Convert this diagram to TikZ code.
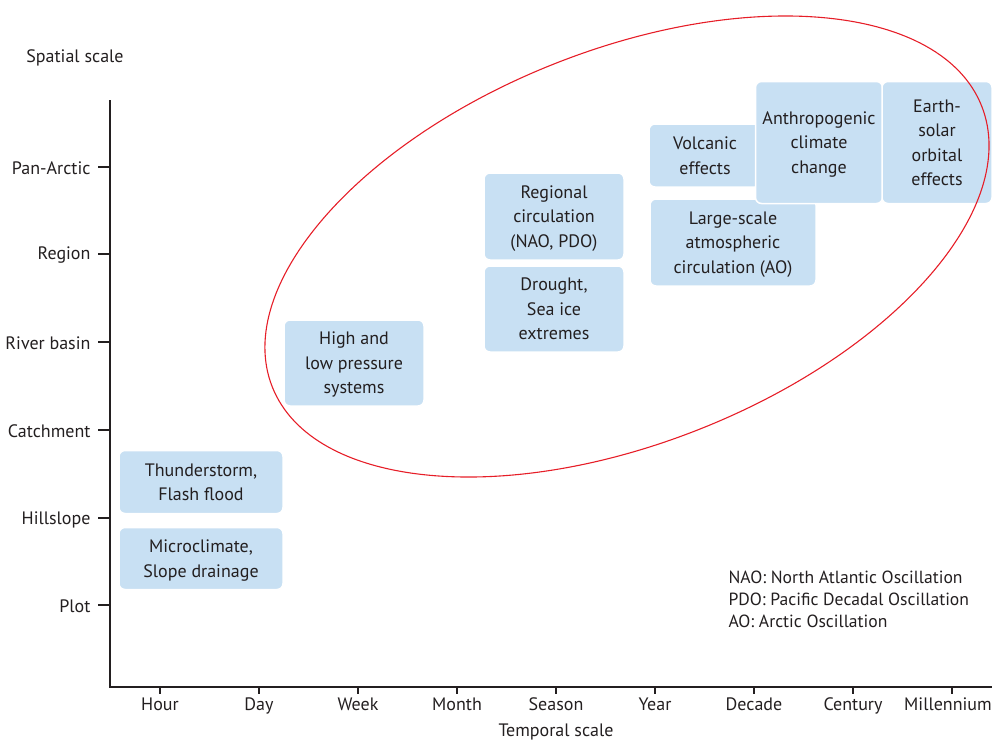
\documentclass[tikz,border=0pt]{standalone}
\usepackage{fontspec}
\setmainfont{PT Sans}
\definecolor{boxblue}{RGB}{200,224,243}
\definecolor{txt}{RGB}{35,31,32}
\definecolor{ellred}{RGB}{230,30,40}
\begin{document}
\begin{tikzpicture}[x=1pt,y=-1pt,
  every node/.style={text=txt, font=\fontsize{18}{24.5}\selectfont},
  ebox/.style={rectangle, rounded corners=6pt, fill=boxblue, draw=white, line width=1.5pt, align=center, inner sep=0pt, text depth=0pt},
  axis/.style={line width=1.1pt, draw=txt},
  ylab/.style={anchor=east},
  xlab/.style={anchor=north}]
\useasboundingbox (0,0) rectangle (992,742);
% axes
\coordinate (o) at (110,687);
\coordinate (ytop) at (110,100);
\coordinate (xend) at (992,687);
\draw[axis] (ytop) -- (o) -- (xend);
\node (spatial) at (75,58) {Spatial scale};
\node (temporal) at (556,732) {Temporal scale};
% y ticks
\foreach \y/\t [count=\i] in {167/Pan-Arctic,254/Region,342/River basin,430/Catchment,518/Hillslope,605/Plot}{
  \coordinate (yt\i) at (110,\y);
  \coordinate (ys\i) at (98,\y);
  \draw[axis] (ys\i) -- (yt\i);
  \node[ylab] (yl\i) at (94,\y+1.5) {\t};
}
% x ticks
\foreach \x/\t/\dx [count=\i] in {160/Hour/0,259/Day/0,358/Week/0,457/Month/0,556/Season/0,655/Year/0,754/Decade/0,853/Century/0,952/Millennium/-4}{
  \coordinate (xt\i) at (\x,687);
  \draw[axis] (xt\i) -- ++(0,7);
  \node[xlab] (xl\i) at (\x+\dx,694) {\t};
}
% boxes
\node[ebox, minimum width=164pt, minimum height=63pt] (thunder) at (201,482) {Thunderstorm,\\Flash flood};
\node[ebox, minimum width=164pt, minimum height=62pt] (micro) at (201,558.5) {Microclimate,\\Slope drainage};
\node[ebox, minimum width=140pt, minimum height=86pt] (highlow) at (354,363) {High and\\low pressure\\systems};
\node[ebox, minimum width=140pt, minimum height=87pt] (regional) at (554,216.5) {Regional\\circulation\\(NAO, PDO)};
\node[ebox, minimum width=140pt, minimum height=86pt] (drought) at (554,309) {Drought,\\Sea ice\\extremes};
\node[ebox, minimum width=112pt, minimum height=63pt] (volcanic) at (705,155.5) {Volcanic\\effects};
\node[ebox, minimum width=166pt, minimum height=87pt] (large) at (733,242.5) {Large-scale\\atmospheric\\circulation (AO)};
\node[ebox, minimum width=127pt, minimum height=122pt] (anthro) at (819,142.5) {Anthropogenic\\climate\\change};
\node[ebox, minimum width=110pt, minimum height=122pt] (earth) at (937,142.5) {Earth-\\solar\\orbital\\effects};
% legend
\node[anchor=west, align=left, font=\fontsize{17.6}{22}\selectfont] (legend) at (725,599.5) {NAO: North Atlantic Oscillation\\PDO: Pacific Decadal Oscillation\\AO: Arctic Oscillation};
% ellipse
\coordinate (ec) at (627,246.5);
\draw[ellred, line width=1.1pt, rotate around={21.6:(ec)}] (ec) ellipse [x radius=381.5pt, y radius=196.6pt];
\end{tikzpicture}
\end{document}
